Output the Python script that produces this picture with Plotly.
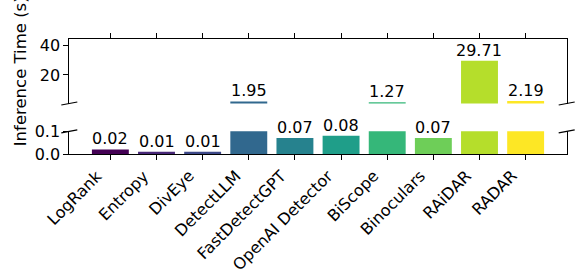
import plotly.graph_objects as go
import plotly.express as px

categories = ["LogRank", "Entropy", "DivEye", "DetectLLM", "FastDetectGPT",
              "OpenAI Detector", "BiScope", "Binoculars", "RAiDAR", "RADAR"]
times = [0.02, 0.01, 0.01, 1.95, 0.07, 0.08, 1.27, 0.07, 29.71, 2.19]

low_range = [0, 0.1]
high_range = [0.5, 44.57]
low_ticks = [0.0, 0.1]
low_ticklabels = ["0.0", "0.1"]
high_ticks = [20, 40]
high_ticklabels = ["20", "40"]
y_title = "Inference Time (s)"

W, H = 581, 273
FONT = "DejaVu Sans"
x_dom = [69.3 / W, 566.7 / W]
top_dom = [1 - 103.5 / H, 1 - 39 / H]
bot_dom = [1 - 154 / H, 1 - 131.3 / H]
colors = px.colors.sequential.Viridis
xpos = list(range(len(categories)))

fig = go.Figure()
fig.add_trace(go.Bar(x=xpos, y=times, width=0.8, marker_color=colors,
                     marker_line_width=0, xaxis="x", yaxis="y", showlegend=False))
fig.add_trace(go.Bar(x=xpos, y=times, width=0.8, marker_color=colors,
                     marker_line_width=0, xaxis="x2", yaxis="y2", showlegend=False))

annotations = []
for i, v in enumerate(times):
    annotations.append(dict(x=i, y=v, xref="x", yref=("y2" if v > low_range[1] else "y"),
                            text=f"{v:.2f}", showarrow=False, yanchor="bottom",
                            xanchor="center", yshift=-1,
                            font=dict(family=FONT, size=16, color="black")))
# rotated category labels, anchored like matplotlib ha='right', va='top'
for i, name in enumerate(categories):
    annotations.append(dict(x=i, y=bot_dom[0], xref="x", yref="paper", yshift=-11, xshift=-3,
                            text=name, textangle=-45, showarrow=False,
                            xanchor="right", yanchor="top", borderpad=0,
                            font=dict(family=FONT, size=16, color="black")))
annotations.append(dict(x=20 / W, y=(top_dom[0] + top_dom[1]) / 2, xref="paper", yref="paper",
                        text=y_title, textangle=-90, showarrow=False,
                        xanchor="center", yanchor="middle",
                        font=dict(family=FONT, size=16.5, color="black")))

axis_common = dict(showline=True, linecolor="black", linewidth=1, ticks="outside",
                   ticklen=5, tickwidth=1, tickcolor="black", showgrid=False,
                   zeroline=False, automargin=False,
                   tickfont=dict(family=FONT, size=16, color="black"))

# break marks
shapes = []
for xd in x_dom:
    for yd in (top_dom[0], bot_dom[1]):
        shapes.append(dict(type="line", xref="paper", yref="paper",
                           x0=xd - 8 / W, x1=xd + 8 / W,
                           y0=yd - 1.5 / H, y1=yd + 1.5 / H,
                           line=dict(color="black", width=1.2)))

fig.update_layout(
    width=W, height=H, margin=dict(l=0, r=0, t=0, b=0),
    template="none", plot_bgcolor="white", paper_bgcolor="white",
    bargap=0.2,
    xaxis=dict(domain=x_dom, anchor="y", range=[-0.89, 9.89], tickvals=xpos,
               showticklabels=False, **axis_common),
    xaxis2=dict(domain=x_dom, anchor="y2", side="top", matches="x", range=[-0.89, 9.89],
                tickvals=xpos, showticklabels=False, **axis_common),
    yaxis=dict(domain=bot_dom, anchor="x", range=low_range, tickvals=low_ticks,
               ticktext=low_ticklabels, mirror=True, **axis_common),
    yaxis2=dict(domain=top_dom, anchor="x2", range=high_range, tickvals=high_ticks,
                ticktext=high_ticklabels, mirror=True, **axis_common),
    annotations=annotations, shapes=shapes,
    font=dict(family=FONT, size=16, color="black"),
)

fig.write_html("out.html", config={"displayModeBar": False},
               post_script="document.body.style.margin='0';document.body.style.overflow='hidden';")
